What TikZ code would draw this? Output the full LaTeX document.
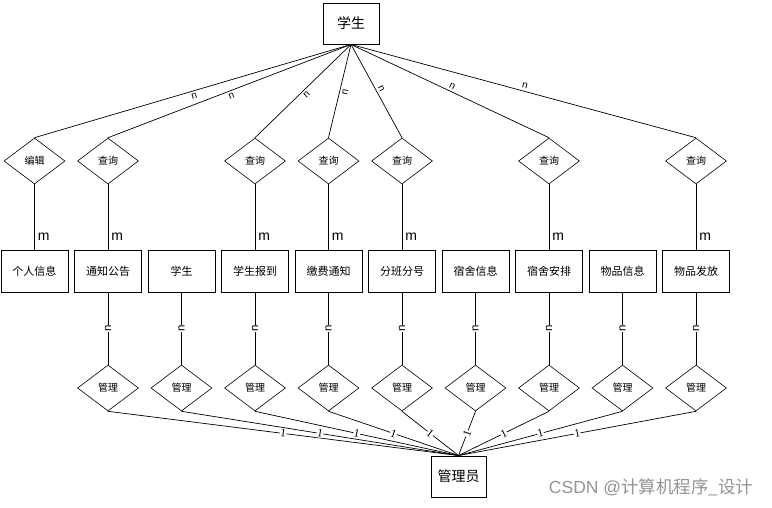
\documentclass[tikz,border=0pt]{standalone}
\usepackage{fontspec}
\setmainfont{Liberation Sans}
\newfontfamily\cjk{Noto Sans CJK SC}
\newfontfamily\serifone{Liberation Serif}
\usetikzlibrary{shapes.geometric}
\begin{document}
\begin{tikzpicture}[x=1pt,y=-1pt,
  ent/.style={draw, line width=0.9pt, minimum width=67pt, minimum height=42pt, inner sep=0pt, font=\cjk\fontsize{11}{11}\selectfont},
  bigent/.style={draw, line width=0.9pt, minimum width=56pt, minimum height=41pt, inner sep=0pt, font=\cjk\fontsize{14}{14}\selectfont},
  rel/.style={draw, diamond, line width=0.6pt, minimum width=61pt, minimum height=46pt, inner sep=0pt, font=\cjk\fontsize{10}{10}\selectfont},
  conn/.style={line width=0.7pt},
  nlab/.style={sloped, inner sep=2.5pt, font=\fontsize{10}{10}\selectfont},
  mlab/.style={right, inner sep=3pt, font=\fontsize{14}{14}\selectfont},
  vnlab/.style={fill=white, inner sep=0.4pt, rotate=90, font=\fontsize{11.5}{11.5}\selectfont},
  onelab/.style={sloped, fill=white, inner sep=0.4pt, font=\serifone\fontsize{11.5}{11.5}\selectfont},
  wm/.style={anchor=east, text=black!42, font=\fontsize{17.5}{17.5}\selectfont}
]
\useasboundingbox (0,0) rectangle (772,507);
\node[bigent] (top) at (351,23.5) {学生};
\node[bigent, minimum width=55pt] (adm) at (458.5,476.5) {管理员};
\foreach \i/\t in {0/个人信息,1/通知公告,2/学生,3/学生报到,4/缴费通知,5/分班分号,6/宿舍信息,7/宿舍安排,8/物品信息,9/物品发放}
  \node[ent] (e\i) at ({34.5+73.5*\i},271) {\t};
\foreach \i/\t in {0/编辑,1/查询,3/查询,4/查询,5/查询,7/查询,9/查询}
  \node[rel] (u\i) at ({34.5+73.5*\i},161) {\t};
\foreach \i in {1,...,9}
  \node[rel] (l\i) at ({34.5+73.5*\i},388) {管理};
% upper connectors
\foreach \i in {0,1,3,4}
  \draw[conn] (u\i.north) -- (top.south) node[nlab, below, pos=0.5] {n};
\foreach \i in {5,7,9}
  \draw[conn] (u\i.north) -- (top.south) node[nlab, above, pos=0.5] {n};
\foreach \i in {0,1,3,4,5,7,9}
  \draw[conn] (u\i.south) -- (e\i.north) node[mlab, pos=0.8] {m};
% lower connectors
\foreach \i in {1,...,9}
  \draw[conn] (e\i.south) -- (l\i.north) node[vnlab, midway] {n};
\foreach \i in {1,...,9}
  \draw[conn] (l\i.south) -- (adm.north) node[onelab, midway] {1};
\node[wm] (wmark) at (757,487) {CSDN @{\cjk 计算机程序\_设计}};
\end{tikzpicture}
\end{document}
